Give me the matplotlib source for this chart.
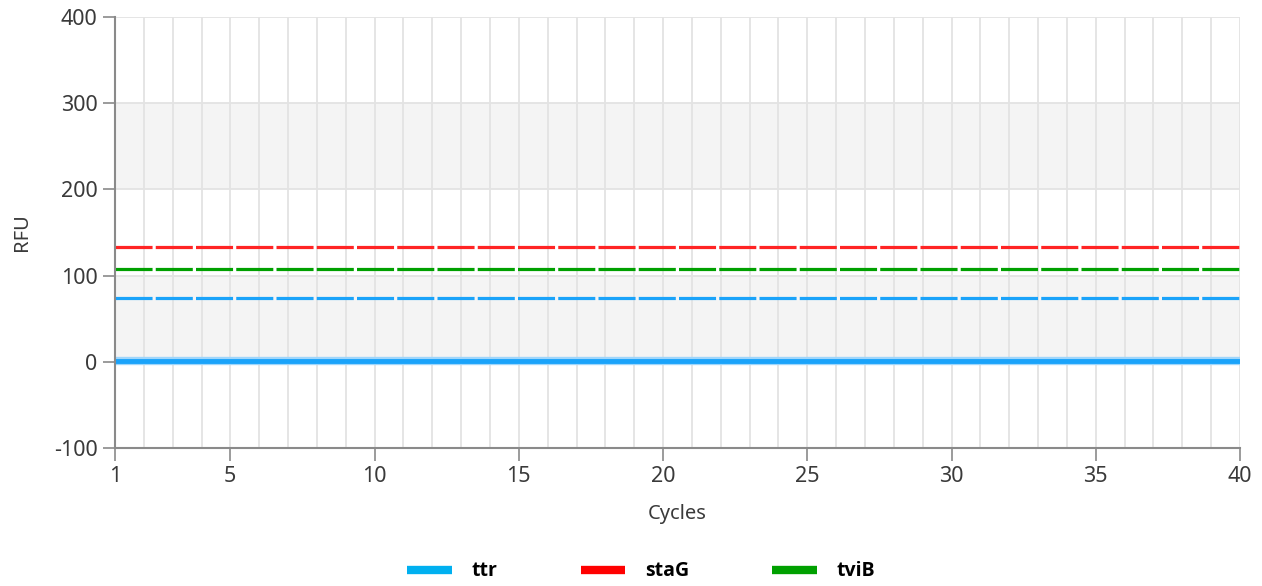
import matplotlib.pyplot as plt
from matplotlib.lines import Line2D

# ciclos y lecturas (RFU)
cycles = list(range(1, 41))
ttr_rfu = [1.5, 1.5, 1.5, 1.5, 1.5, 1.5, 1.5, 1.5, 1.5, 1.5,
           1.5, 1.5, 1.5, 1.5, 1.5, 1.5, 1.5, 1.5, 1.5, 1.5,
           1.5, 1.5, 1.5, 1.5, 1.5, 1.5, 1.5, 1.5, 1.5, 1.5,
           1.5, 1.5, 1.5, 1.5, 1.5, 1.5, 1.5, 1.5, 1.5, 1.5]

# umbrales
thresholds = {"staG": 133, "tviB": 108, "ttr": 74}
targets = ["ttr", "staG", "tviB"]
line_colors = {"ttr": "#1AA3FA", "staG": "#FF2424", "tviB": "#00A000"}
legend_colors = {"ttr": "#00B0F0", "staG": "#FF0000", "tviB": "#00A000"}

xticks = [1, 5, 10, 15, 20, 25, 30, 35, 40]
yticks = [-100, 0, 100, 200, 300, 400]

plt.rcParams["font.family"] = ["Noto Sans", "DejaVu Sans"]
plt.rcParams["axes.unicode_minus"] = False

fig = plt.figure(figsize=(12.62, 5.86), dpi=100)
ax = fig.add_axes([0.0911, 0.2355, 0.8915, 0.7355])

# bandas alternas
for lo, hi in zip(yticks[:-1], yticks[1:]):
    if (lo // 100) % 2 == 0:
        ax.axhspan(lo, hi, color="#F4F4F4", zorder=0, lw=0)

for c in cycles:
    ax.axvline(c, color="#E3E3E3", lw=1.3, zorder=1)
for y in yticks:
    ax.axhline(y, color="#E3E3E3", lw=1.3, zorder=1)

ax.plot(cycles, ttr_rfu, color="#9FD6FB", lw=6, zorder=3, solid_capstyle="butt")
ax.plot(cycles, ttr_rfu, color=line_colors["ttr"], lw=3.5, zorder=4, solid_capstyle="butt")

for name in ["staG", "tviB", "ttr"]:
    ax.plot([cycles[0], cycles[-1]], [thresholds[name]] * 2, color=line_colors[name],
            lw=2.3, dashes=(11.6, 1.0), zorder=5, solid_capstyle="butt", dash_capstyle="butt")

ax.set_xlim(1, 40)
ax.set_ylim(-100, 400)
ax.set_xticks(xticks)
ax.set_yticks(yticks)
ax.tick_params(axis="both", labelsize=15.5, colors="#3A3A3A", length=9, width=1.2, color="#8A8A8A")
ax.tick_params(axis="x", pad=4)
for side in ["top", "right"]:
    ax.spines[side].set_visible(False)
for side in ["left", "bottom"]:
    ax.spines[side].set_color("#8A8A8A")
    ax.spines[side].set_linewidth(1.5)
    ax.spines[side].set_zorder(6)

ax.set_xlabel("Cycles", fontsize=14.5, color="#3A3A3A", labelpad=12)
ax.set_ylabel("RFU", fontsize=14.5, color="#3A3A3A", labelpad=16)

handles = [Line2D([], [], color=legend_colors[t], lw=6, solid_capstyle="butt") for t in targets]
fig.legend(handles, targets, loc="center", bbox_to_anchor=(0.508, 0.025), ncol=3, frameon=False,
           prop={"family": "Open Sans", "weight": "bold", "size": 14},
           handlelength=2.3, handletextpad=1.0, columnspacing=4.3)

fig.savefig("out.png", dpi=100)
